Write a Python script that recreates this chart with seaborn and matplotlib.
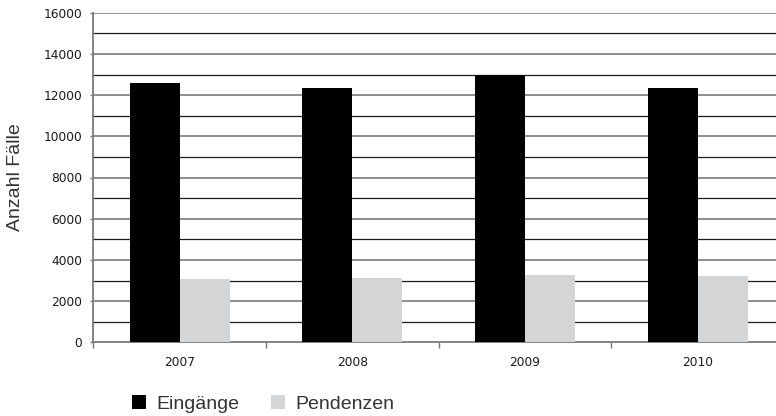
import pandas as pd
import seaborn as sns
import matplotlib.pyplot as plt
from matplotlib.ticker import MultipleLocator, FixedLocator

# values
jahre = ["2007", "2008", "2009", "2010"]
eingaenge = [12600, 12350, 13000, 12350]
pendenzen = [3070, 3120, 3270, 3220]
serien = ["Eingänge", "Pendenzen"]
farben = ["#000000", "#d4d5d7"]
y_ticks = list(range(0, 16001, 2000))


def build_frame():
    rows = []
    for jahr, e, p in zip(jahre, eingaenge, pendenzen):
        rows.append({"Jahr": jahr, "Typ": serien[0], "Anzahl": e})
        rows.append({"Jahr": jahr, "Typ": serien[1], "Anzahl": p})
    return pd.DataFrame(rows)


def plot():
    df = build_frame()

    sns.set_style("white")
    label_font = ["Liberation Sans", "DejaVu Sans"]

    fig = plt.figure(figsize=(7.76, 4.16), dpi=100)
    ax = fig.add_axes([93.3 / 776, 1 - 342.3 / 416, 690.7 / 776, 329.6 / 416])

    sns.barplot(data=df, x="Jahr", y="Anzahl", hue="Typ", hue_order=serien,
                palette=farben, width=0.58, saturation=1, gap=0,
                edgecolor="none", linewidth=0, ax=ax, zorder=3)

    ax.set_xlim(-0.5, 3.5)
    ax.set_ylim(0, 16000)

    # horizontal grid: labelled lines grey, in-between lines black
    ax.yaxis.set_major_locator(FixedLocator(y_ticks))
    ax.yaxis.set_minor_locator(MultipleLocator(1000))
    ax.grid(False)
    for v in range(1000, 16001, 1000):
        if v % 2000 == 0:
            ax.axhline(v, color="#7a7a7a", lw=1.2, zorder=1)
        else:
            ax.axhline(v, color="#1a1a1a", lw=0.9, zorder=1)

    ax.set_yticks(y_ticks)
    ax.set_yticklabels([str(v) for v in y_ticks])
    ax.tick_params(axis="y", which="major", length=2.5, width=1, color="#7a7a7a",
                   pad=5.5, labelsize=8.8, labelcolor="#1a1a1a", left=True)
    ax.tick_params(axis="y", which="minor", length=0)

    # x: labels at centres, small ticks at category boundaries
    ax.set_xticks(range(len(jahre)))
    ax.set_xticklabels(jahre)
    ax.xaxis.set_minor_locator(FixedLocator([-0.5, 0.5, 1.5, 2.5]))
    ax.tick_params(axis="x", which="major", length=0, pad=10, labelsize=8.8,
                   labelcolor="#1a1a1a")
    ax.tick_params(axis="x", which="minor", length=4, width=1, color="#7a7a7a",
                   bottom=True)

    for side in ["top", "right"]:
        ax.spines[side].set_visible(False)
    for side in ["left", "bottom"]:
        ax.spines[side].set_color("#7a7a7a")
        ax.spines[side].set_linewidth(1.3)

    ax.set_xlabel("")
    ax.set_ylabel("Anzahl Fälle", fontsize=14, family=label_font, color="#333333")
    ax.yaxis.set_label_coords(-0.1, 0.5)

    handles, labels = ax.get_legend_handles_labels()
    ax.legend_.remove()
    leg = fig.legend(handles, labels, loc="center left",
                     bbox_to_anchor=(131.7 / 776, 1 - 404 / 416), ncol=2,
                     frameon=False, borderpad=0, borderaxespad=0,
                     handlelength=0.72, handleheight=0.72, handletextpad=0.55,
                     columnspacing=1.6, prop={"family": label_font, "size": 14})
    for t in leg.get_texts():
        t.set_color("#333333")

    fig.savefig("out.png", dpi=100)


if __name__ == "__main__":
    plot()
